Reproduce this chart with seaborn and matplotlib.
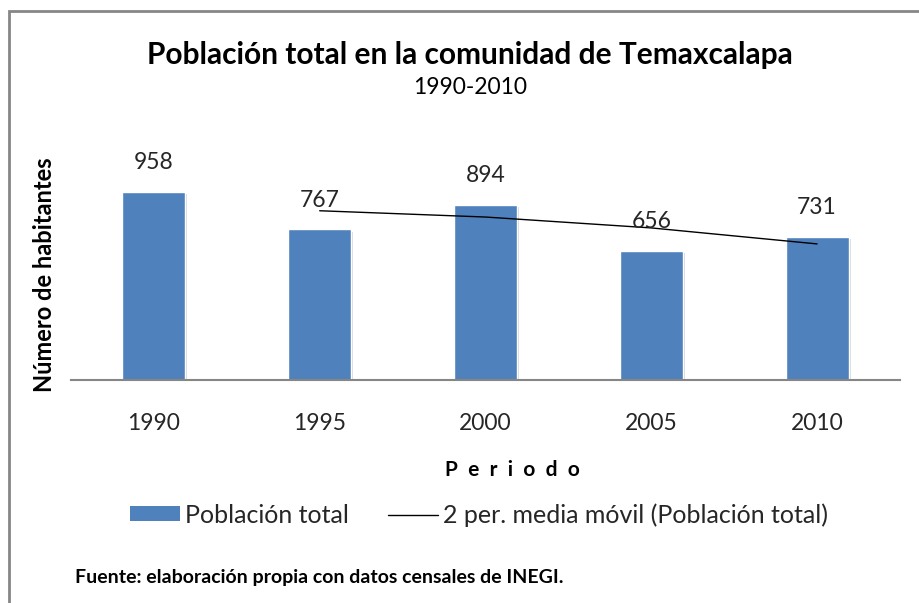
import matplotlib
matplotlib.use("Agg")
import matplotlib.pyplot as plt
import seaborn as sns
import pandas as pd
from matplotlib.patches import Patch, Rectangle
from matplotlib.lines import Line2D
import matplotlib.patheffects as pe

periodos = ["1990", "1995", "2000", "2005", "2010"]
poblacion = [958, 767, 894, 656, 731]
media_movil_x = [1, 2, 3, 4]
media_movil = [862.5, 830.5, 775, 693.5]

sns.set_theme(style="white")
plt.rcParams['font.family'] = ['Lato', 'DejaVu Sans']

fig = plt.figure(figsize=(9.19, 6.03), dpi=100)
ax = fig.add_axes([71/919, 1-380/603, 829/919, 250/603])

df = pd.DataFrame({"Periodo": periodos, "Poblacion": poblacion})
sns.barplot(data=df, x="Periodo", y="Poblacion", color="#4F81BD", width=0.38,
            saturation=1, ax=ax, edgecolor="white", linewidth=1)
for p in ax.patches:
    p.set_path_effects([pe.SimplePatchShadow(offset=(1.5, -1.5), shadow_rgbFace="#bbbbbb", alpha=0.6), pe.Normal()])

sns.lineplot(x=media_movil_x, y=media_movil, color="black", linewidth=1, ax=ax)

for i, v in enumerate(poblacion):
    ax.text(i, v + 150, str(v), ha="center", va="center", fontsize=16.5, color="#262626")

ax.set_ylim(0, 1274)
ax.set_xlim(-0.5, 4.5)
ax.set_yticks([])
ax.set_ylabel("")
ax.set_xlabel("")
ax.tick_params(axis="x", length=0, pad=24, labelsize=16.5, labelcolor="#262626")
for s in ["top", "right", "left"]:
    ax.spines[s].set_visible(False)
ax.spines["bottom"].set_color("#868686")
ax.spines["bottom"].set_linewidth(1.5)

fig.text(470/919, 1-55/603, "Población total en la comunidad de Temaxcalapa",
         ha="center", va="center", fontsize=21.5, fontweight="bold", color="black")
fig.text(470/919, 1-88/603, "1990-2010", ha="center", va="center", fontsize=16.5, color="black")
fig.text(45/919, 1-275/603, "Número de habitantes", rotation=90, ha="center", va="center",
         fontsize=17, fontweight="bold", color="black")
fig.text(512/919, 1-470/603, "P  e  r  i  o  d  o", ha="center", va="center",
         fontsize=15, fontweight="bold", color="black")
fig.text(75/919, 1-577/603, "Fuente: elaboración propia con datos censales de INEGI.",
         ha="left", va="center", fontsize=14, fontweight="bold", color="black")

handles = [Patch(facecolor="#4F81BD", edgecolor="none"),
           Line2D([0], [0], color="black", linewidth=1)]
fig.legend(handles, ["Población total", "2 per. media móvil (Población total)"],
           loc="center", bbox_to_anchor=(479/919, 1-515/603), ncol=2, frameon=False,
           fontsize=18, handlelength=2.0, handleheight=0.55, handletextpad=0.2,
           columnspacing=1.6, labelcolor="#262626")

fig.add_artist(Rectangle((9/919, -0.05), 1.0, 1-11/603 + 0.05, transform=fig.transFigure,
                         fill=False, edgecolor="#868686", linewidth=2))

fig.savefig("out.png", dpi=100)
